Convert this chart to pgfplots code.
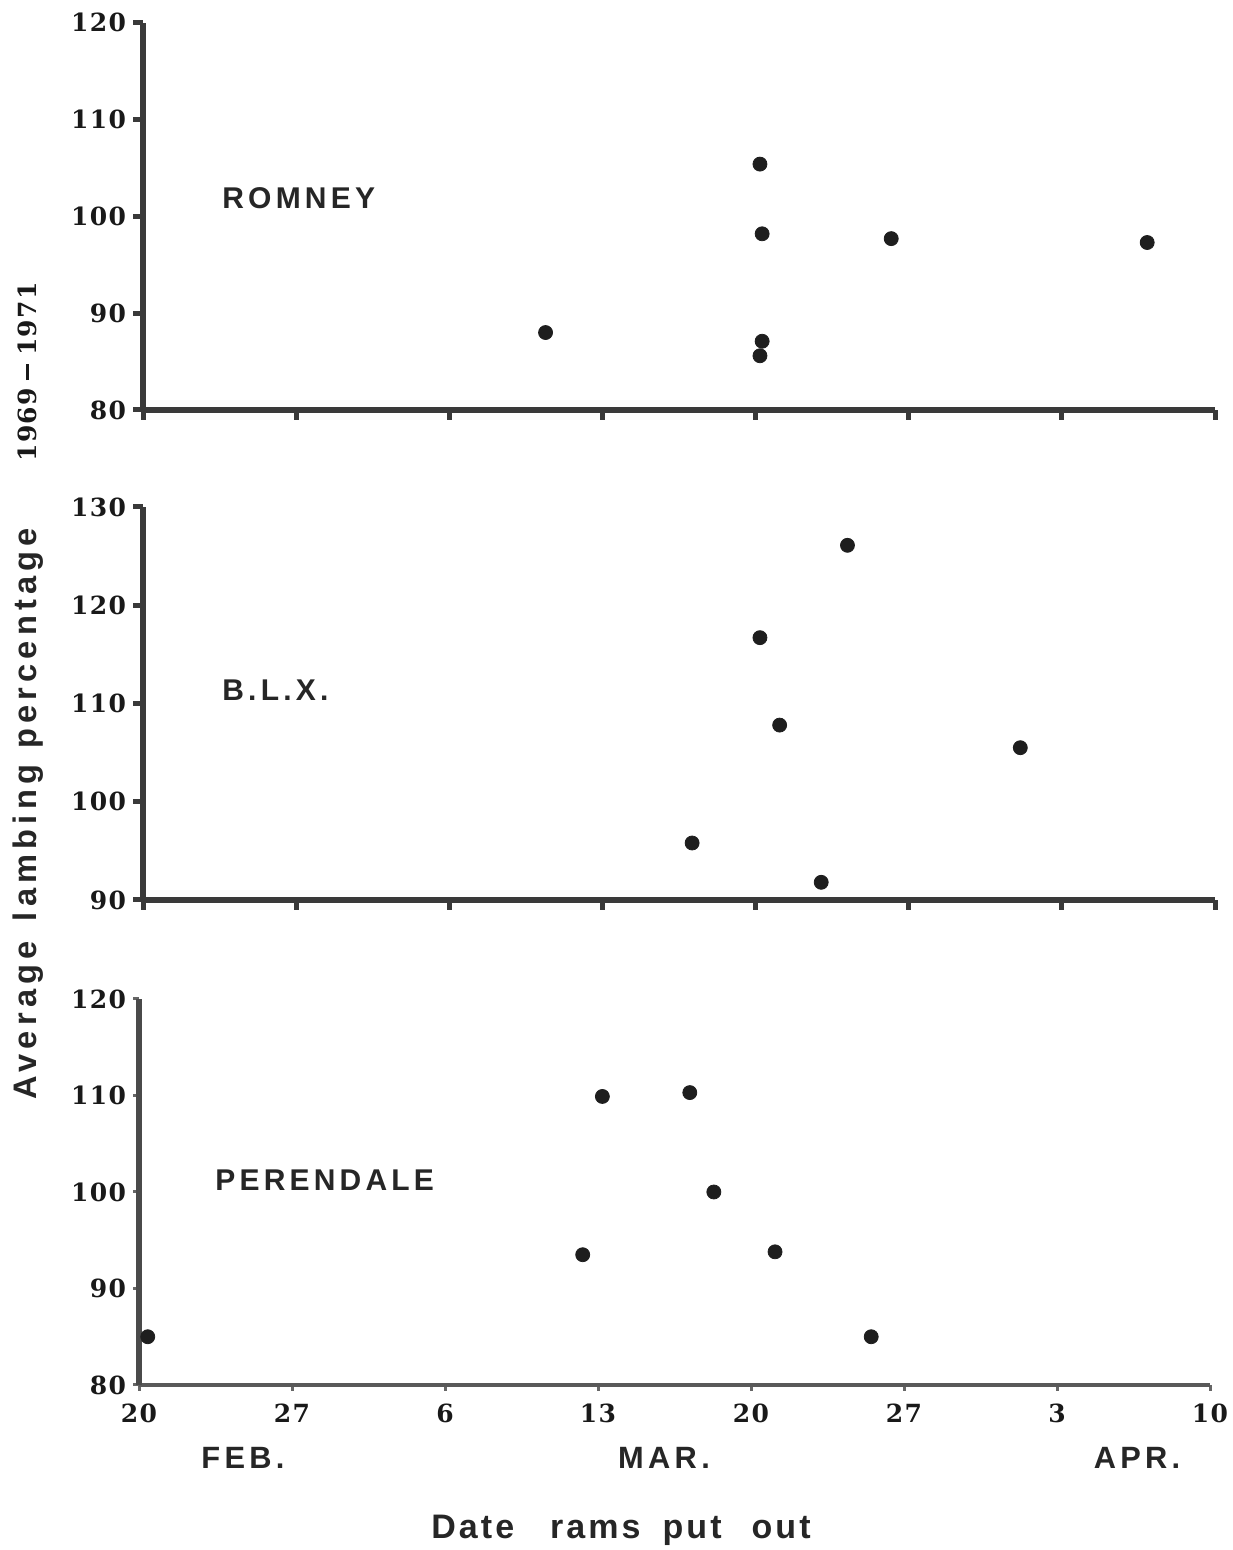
\documentclass[border=0pt]{standalone}
\usepackage{pgfplots}
\pgfplotsset{compat=1.18}
\usepackage{fontspec}
\setmainfont{Liberation Sans}
\newfontfamily\tickfont[LetterSpace=5]{DejaVu Serif}
\newfontfamily\labfont[LetterSpace=14]{Liberation Sans}
\newfontfamily\ylabfont[LetterSpace=16]{Liberation Sans}
\newfontfamily\titlefont[LetterSpace=9]{Liberation Sans}

\definecolor{ink}{HTML}{1E1E1E}
\definecolor{axisgray}{HTML}{3A3A3A}
\definecolor{lowgray}{HTML}{4A4A4A}

\pgfplotsset{
  panel/.style={
    scale only axis,
    width=536pt,
    xmin=0, xmax=49,
    axis x line*=bottom,
    axis y line*=left,
    axis line style={axisgray, line width=3pt, -},
    tick style={axisgray, line width=2.5pt},
    tick align=outside,
    major tick length=5pt,
    xtick={0,7,...,49},
    xticklabels={},
    ytick distance=10,
    clip=false,
    /pgf/number format/assume math mode=true,
    yticklabel style={font=\tickfont\bfseries\fontsize{12.5}{13}\selectfont, text=black!90},
    xticklabel style={font=\tickfont\bfseries\fontsize{12.5}{13}\selectfont, text=black!90},
    anchor=south west,
  },
  dots/.style={only marks, mark=*, mark size=3.5pt,
    mark options={fill=ink, draw=ink}},
}

\begin{document}
\begin{tikzpicture}
\useasboundingbox (0,0) rectangle (616pt,775pt);

% Romney
\begin{axis}[panel, at={(71.5pt,570pt)}, height=193.6pt, ymin=80, ymax=120]
\addplot[dots] coordinates {
  (18.4,88.0) (28.2,105.4) (28.3,98.2) (28.3,87.1) (28.2,85.6)
  (34.2,97.7) (45.9,97.3)
};
\end{axis}

% Border Leicester cross
\begin{axis}[panel, at={(71.5pt,325pt)}, height=196.5pt, ymin=90, ymax=130]
\addplot[dots] coordinates {
  (32.2,126.1) (28.2,116.7) (29.1,107.8) (40.1,105.5)
  (25.1,95.8) (31.0,91.8)
};
\end{axis}

% Perendale
\begin{axis}[panel, at={(69.5pt,82.5pt)}, width=535.5pt, height=193pt,
  ymin=80, ymax=120,
  x axis line style={black!65, line width=2pt},
  y axis line style={lowgray, line width=3pt},
  tick style={black!60, line width=1.5pt},
  major tick length=3pt,
  xticklabels={20,27,6,13,20,27,3,10},
  xticklabel style={yshift=-3pt},
]
\addplot[dots] coordinates {
  (0.4,85.0) (21.2,109.9) (25.2,110.3) (26.3,100.0)
  (20.3,93.5) (29.1,93.8) (33.5,85.0)
};
\end{axis}

% breed names
\tikzset{breed/.style={anchor=west, inner sep=0pt, text=black!85,
  font=\labfont\bfseries\fontsize{15}{16}\selectfont}}
\node[breed] at (111pt,676pt) {ROMNEY};
\node[breed] at (111pt,430pt) {B.L.X.};
\node[breed] at (107.5pt,185pt) {PERENDALE};

% months
\tikzset{month/.style={inner sep=0pt, text=black!85,
  font=\labfont\bfseries\fontsize{15.4}{16}\selectfont}}
\node[month] at (121.5pt,46pt) {FEB.};
\node[month] at (332pt,46pt) {MAR.};
\node[month] at (568.5pt,46pt) {APR.};

% axis titles
\node[inner sep=0pt, text=black!85, font=\titlefont\bfseries\fontsize{17}{18}\selectfont] at (310.5pt,10pt)
  {Date\hspace{18pt}rams\hspace{11pt}put\hspace{15pt}out};
\node[rotate=90, inner sep=0pt, text=black!85, font=\ylabfont\bfseries\fontsize{16.3}{17}\selectfont] at (14pt,368pt)
  {Average\hspace{10pt}lambing\hspace{8pt}percentage};
\node[rotate=90, inner sep=0pt, text=black!90, font=\tickfont\bfseries\fontsize{12.5}{13}\selectfont] at (13.5pt,589pt)
  {1969\hspace{4pt}\rule[0.3em]{0.65em}{0.09em}\hspace{4pt}1971};
\end{tikzpicture}
\end{document}
